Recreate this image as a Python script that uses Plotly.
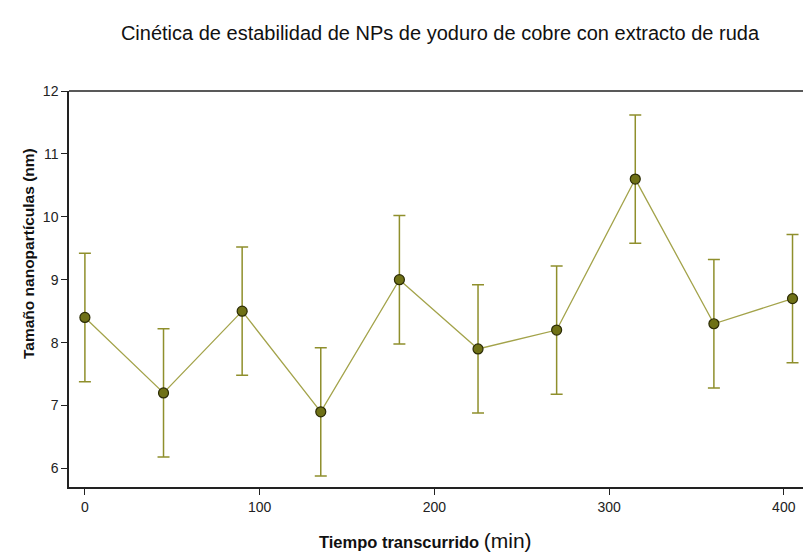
import plotly.graph_objects as go

# Elapsed time (min) and nanoparticle size (nm) with standard deviation
tiempo = [0, 45, 90, 135, 180, 225, 270, 315, 360, 405]
tamano = [8.4, 7.2, 8.5, 6.9, 9.0, 7.9, 8.2, 10.6, 8.3, 8.7]
desviacion = [1.02, 1.02, 1.02, 1.02, 1.02, 1.02, 1.02, 1.02, 1.02, 1.02]

x_ticks = [0, 100, 200, 300, 400]
y_ticks = [6, 7, 8, 9, 10, 11, 12]

fig = go.Figure()
fig.add_trace(go.Scatter(
    x=tiempo, y=tamano,
    mode="lines+markers",
    line=dict(color="#a3a34a", width=1.3),
    marker=dict(size=10, color="#6f7116", line=dict(color="#2b2b05", width=1.2)),
    error_y=dict(type="data", array=desviacion, visible=True,
                 color="#8f8f2c", thickness=1.5, width=6),
    showlegend=False,
))

W, H = 803, 555
fig.update_layout(
    width=W, height=H,
    margin=dict(l=69, r=0, t=91, b=68),
    paper_bgcolor="white", plot_bgcolor="white",
    font=dict(family="Liberation Sans, Arial, sans-serif", color="#111"),
    title=dict(
        text="Cinética de estabilidad de NPs de yoduro de cobre con extracto de ruda",
        x=440 / W, xanchor="center", y=1 - 33 / H, yanchor="middle",
        font=dict(size=20, color="#111"),
    ),
    xaxis=dict(
        range=[-9.1, 411], tickvals=x_ticks, showgrid=False, zeroline=False,
        showline=True, linecolor="#222", linewidth=1.5, mirror=False,
        ticks="outside", ticklen=6, tickcolor="#222",
        tickfont=dict(size=14, color="#222"),
    ),
    yaxis=dict(
        range=[5.705, 12], tickvals=y_ticks, showgrid=False, zeroline=False,
        showline=True, linecolor="#222", linewidth=1.5,
        ticks="outside", ticklen=6, tickcolor="#222",
        tickfont=dict(size=14, color="#222"),
    ),
)

# Axis titles
fig.add_annotation(
    text="<b>Tiempo transcurrido</b> <span style='font-size:21px'>(min)</span>",
    xref="paper", yref="paper", x=(425 - 69) / (W - 69), y=-(540 - 487) / (487 - 91),
    xanchor="center", yanchor="middle", showarrow=False,
    font=dict(size=16.5, color="#111"),
)
fig.add_annotation(
    text="<b>Tamaño nanopartículas (nm)</b>",
    xref="paper", yref="paper", x=-(69 - 28) / (W - 69), y=(487 - 254) / (487 - 91),
    xanchor="center", yanchor="middle", textangle=-90, showarrow=False,
    font=dict(size=15.5, color="#111"),
)

# Top frame line of the plot area
fig.add_shape(type="line", xref="paper", yref="paper", x0=0, x1=1, y0=1, y1=1,
              line=dict(color="#222", width=1.5))

fig.write_html("out.html")
